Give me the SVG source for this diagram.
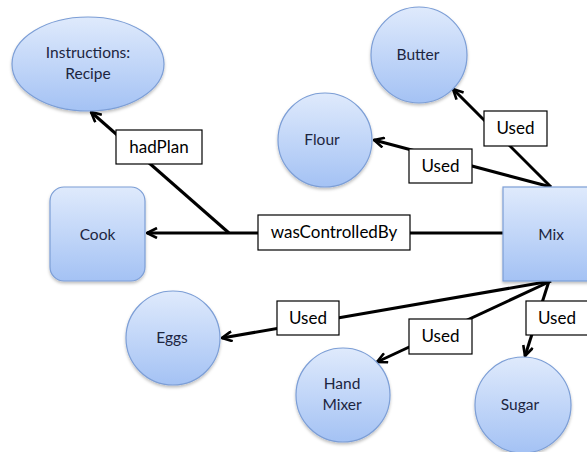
<svg xmlns="http://www.w3.org/2000/svg" width="587" height="452" viewBox="0 0 587 452">
  <defs>
    <linearGradient id="nodeFill" x1="0" y1="0" x2="0" y2="1">
      <stop offset="0" stop-color="#dfeafc"/>
      <stop offset="1" stop-color="#a4c2f4"/>
    </linearGradient>
    <filter id="shadow" x="-20%" y="-20%" width="140%" height="150%">
      <feDropShadow dx="0" dy="2" stdDeviation="1.5" flood-color="#000" flood-opacity="0.25"/>
    </filter>
    <marker id="arrow" viewBox="0 0 12 12" refX="11" refY="6" markerWidth="12" markerHeight="12" markerUnits="userSpaceOnUse" orient="auto">
      <path d="M1,1 L11,6 L1,11" fill="none" stroke="#000" stroke-width="2.6" stroke-linejoin="miter"/>
    </marker>
  </defs>
  <style>
    .node { fill: url(#nodeFill); stroke: #7c9ed6; stroke-width: 1.2; filter: url(#shadow); }
    .ntext { font-family: Lato, "Open Sans", sans-serif; font-size: 15.5px; fill: #1c2540; text-anchor: middle; }
    .edge { fill: none; stroke: #000; stroke-width: 3; }
    .lbox { fill: #fff; stroke: #000; stroke-width: 1.2; }
    .ltext { font-family: Lato, "Open Sans", sans-serif; font-size: 17px; fill: #000; text-anchor: middle; }
  </style>

  <!-- connectors -->
  <g id="connectors">
    <path class="edge" d="M229,233 L91,112" marker-end="url(#arrow)"/>
    <path class="edge" d="M503,233 L147,233" marker-end="url(#arrow)"/>
    <path class="edge" d="M551,187 L453,89" marker-end="url(#arrow)"/>
    <path class="edge" d="M551,187 L374,140" marker-end="url(#arrow)"/>
    <path class="edge" d="M551,281 L222,338" marker-end="url(#arrow)"/>
    <path class="edge" d="M551,281 L377,362" marker-end="url(#arrow)"/>
    <path class="edge" d="M549,281 L525,356" marker-end="url(#arrow)"/>

    <g id="label-hadPlan">
      <rect class="lbox" x="116" y="130" width="86" height="34"/>
      <text class="ltext" x="159" y="153">hadPlan</text>
    </g>
    <g id="label-wasControlledBy">
      <rect class="lbox" x="258" y="215" width="152" height="35"/>
      <text class="ltext" x="334" y="238">wasControlledBy</text>
    </g>
    <g id="label-used-butter">
      <rect class="lbox" x="484" y="111" width="63" height="35"/>
      <text class="ltext" x="515.5" y="134">Used</text>
    </g>
    <g id="label-used-flour">
      <rect class="lbox" x="409" y="149" width="63" height="34"/>
      <text class="ltext" x="440.5" y="172">Used</text>
    </g>
    <g id="label-used-eggs">
      <rect class="lbox" x="277" y="301" width="62" height="34"/>
      <text class="ltext" x="308" y="324">Used</text>
    </g>
    <g id="label-used-mixer">
      <rect class="lbox" x="409" y="319" width="63" height="35"/>
      <text class="ltext" x="440.5" y="342">Used</text>
    </g>
    <g id="label-used-sugar">
      <rect class="lbox" x="526" y="301" width="63" height="34"/>
      <text class="ltext" x="557" y="324">Used</text>
    </g>
  </g>

  <!-- nodes -->
  <g id="node-instructions">
    <ellipse class="node" cx="88" cy="64" rx="76" ry="47"/>
    <text class="ntext" x="88" y="58">Instructions:</text>
    <text class="ntext" x="88" y="79">Recipe</text>
  </g>
  <g id="node-cook">
    <rect class="node" x="50" y="187" width="95" height="94" rx="14"/>
    <text class="ntext" x="97.5" y="240">Cook</text>
  </g>
  <g id="node-mix">
    <rect class="node" x="503" y="187" width="96" height="94"/>
    <text class="ntext" x="551" y="240">Mix</text>
  </g>
  <g id="node-butter">
    <circle class="node" cx="419" cy="55" r="48"/>
    <text class="ntext" x="418" y="60">Butter</text>
  </g>
  <g id="node-flour">
    <circle class="node" cx="325" cy="140" r="47"/>
    <text class="ntext" x="322" y="145">Flour</text>
  </g>
  <g id="node-eggs">
    <circle class="node" cx="173" cy="338" r="47"/>
    <text class="ntext" x="172" y="343">Eggs</text>
  </g>
  <g id="node-mixer">
    <circle class="node" cx="343" cy="395" r="47"/>
    <text class="ntext" x="342" y="389">Hand</text>
    <text class="ntext" x="342" y="410">Mixer</text>
  </g>
  <g id="node-sugar">
    <circle class="node" cx="523" cy="405" r="48"/>
    <text class="ntext" x="520" y="410">Sugar</text>
  </g>
</svg>
